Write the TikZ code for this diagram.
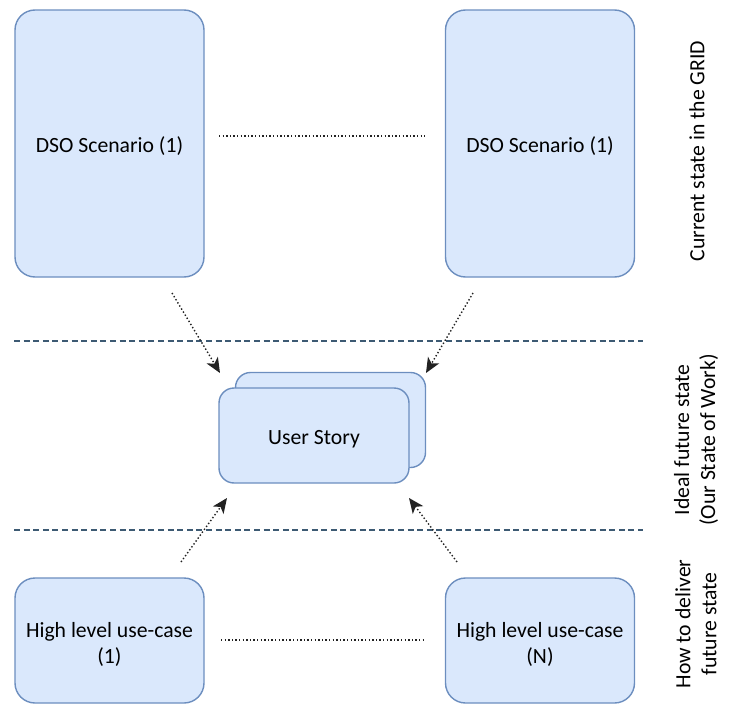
\documentclass[tikz,border=0pt]{standalone}
\usepackage{fontspec}
\setmainfont{Carlito}
\usetikzlibrary{arrows.meta}
\definecolor{boxfill}{HTML}{DAE8FC}
\definecolor{boxline}{HTML}{6C8EBF}
\definecolor{sepline}{HTML}{3D5A73}
\definecolor{dotline}{HTML}{222222}
\tikzset{
  card/.style={draw=boxline, fill=boxfill, line width=1.4pt, rounded corners=20pt,
    align=center, inner sep=0pt, text height=22pt, font=\fontsize{21.7}{26}\selectfont},
  twolinecard/.style={card, text height=48pt},
  storycard/.style={card, rounded corners=15pt, minimum width=190pt, minimum height=95pt},
  linkdots/.style={draw=dotline, line width=1.4pt, dash pattern=on 1.4pt off 2.2pt},
  flow/.style={linkdots, -{Stealth[length=15pt, width=13pt, inset=4pt]}},
  lane/.style={draw=sepline, line width=1.8pt, dash pattern=on 6pt off 3.6pt},
  lanelabel/.style={rotate=90, align=center, font=\fontsize{21.7}{26}\selectfont}
}
\begin{document}
\begin{tikzpicture}[x=1pt, y=-1pt]
  \useasboundingbox (0,0) rectangle (729,704);

  % current state boxes
  \node[card, minimum width=189pt, minimum height=267pt] (dsoA) at (109.5,143.5) {DSO Scenario (1)};
  \node[card, minimum width=189pt, minimum height=267pt] (dsoB) at (540,143.5) {DSO Scenario (1)};

  % delivery boxes
  \node[twolinecard, minimum width=189pt, minimum height=125pt] (hlA) at (109.5,640.5) {High level use-case\\(1)};
  \node[twolinecard, minimum width=189pt, minimum height=125pt] (hlB) at (540,640.5) {High level use-case\\(N)};

  % stacked user story cards
  \node[storycard] (storyBack) at (330.5,420) {};
  \node[storycard] (story) at (314,435.5) {User Story};

  % lane separators
  \coordinate (laneTopL) at (14,341);
  \coordinate (laneTopR) at (643,341);
  \coordinate (laneBotL) at (14,530);
  \coordinate (laneBotR) at (643,530);
  \draw[lane] (laneTopL) -- (laneTopR);
  \draw[lane] (laneBotL) -- (laneBotR);

  % dotted links between sibling boxes
  \coordinate (dotTopL) at (219,136);
  \coordinate (dotTopR) at (425,136);
  \coordinate (dotBotL) at (221,640);
  \coordinate (dotBotR) at (425,640);
  \draw[linkdots] (dotTopL) -- (dotTopR);
  \draw[linkdots] (dotBotL) -- (dotBotR);

  % arrows into the user story
  \coordinate (fromDsoA) at (172,293);
  \coordinate (toStoryTL) at (220,373);
  \coordinate (fromDsoB) at (473,293);
  \coordinate (toStoryTR) at (426,373);
  \coordinate (fromHlA) at (181,562);
  \coordinate (toStoryBL) at (227,498);
  \coordinate (fromHlB) at (457,562);
  \coordinate (toStoryBR) at (409,498);
  \draw[flow] (fromDsoA) -- (toStoryTL);
  \draw[flow] (fromDsoB) -- (toStoryTR);
  \draw[flow] (fromHlA) -- (toStoryBL);
  \draw[flow] (fromHlB) -- (toStoryBR);

  % lane captions
  \node[lanelabel] (capTop) at (697,151) {Current state in the GRID};
  \node[lanelabel] (capMid) at (696,440) {Ideal future state\\(Our State of Work)};
  \node[lanelabel] (capBot) at (696,624) {How to deliver\\future state};
\end{tikzpicture}
\end{document}
